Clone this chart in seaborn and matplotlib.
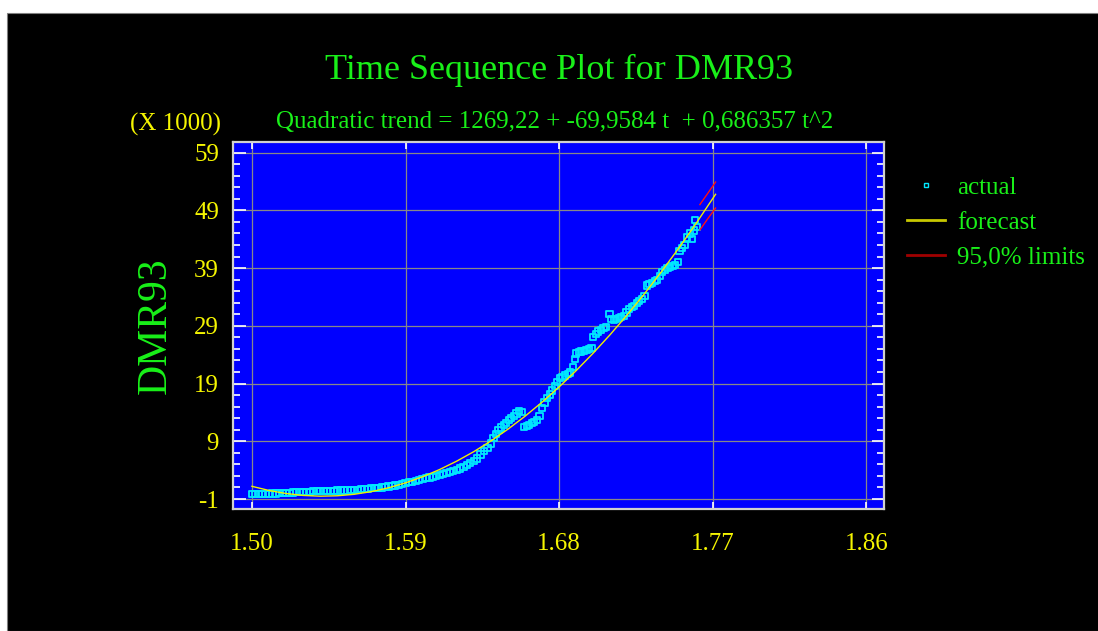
import numpy as np
import pandas as pd
import matplotlib
matplotlib.use("Agg")
import matplotlib.pyplot as plt
from matplotlib.lines import Line2D
from matplotlib.patches import Rectangle
from matplotlib.ticker import FixedLocator
import seaborn as sns

# ---------------- data ----------------
actual_x = [1.500, 1.502, 1.504, 1.506, 1.508, 1.510, 1.512, 1.514, 1.516, 1.518,
            1.520, 1.522, 1.524, 1.526, 1.528, 1.530, 1.532, 1.534, 1.536, 1.538,
            1.540, 1.542, 1.544, 1.546, 1.548, 1.550, 1.552, 1.554, 1.556, 1.558,
            1.560, 1.562, 1.564, 1.566, 1.568, 1.570, 1.572, 1.574, 1.576, 1.578,
            1.580, 1.582, 1.584, 1.586, 1.588, 1.590, 1.592, 1.594, 1.596, 1.598,
            1.600, 1.602, 1.604, 1.606, 1.608, 1.610, 1.612, 1.614, 1.616, 1.618,
            1.620, 1.622, 1.624, 1.626, 1.628, 1.630, 1.632, 1.634, 1.636, 1.638,
            1.640, 1.6415, 1.643, 1.6445, 1.646, 1.6475, 1.649, 1.6505, 1.652, 1.6535,
            1.655, 1.6565, 1.658, 1.6595, 1.661, 1.6625, 1.664, 1.6655, 1.667, 1.6685,
            1.670, 1.6715, 1.673, 1.6745, 1.676, 1.6775, 1.679, 1.6805, 1.682, 1.6835,
            1.685, 1.6865, 1.688, 1.6895, 1.690, 1.6915, 1.693, 1.6945, 1.696, 1.6975,
            1.699, 1.700, 1.7015, 1.703, 1.7045, 1.706, 1.7075, 1.7095, 1.7105, 1.712,
            1.7135, 1.715, 1.7165, 1.718, 1.7195, 1.721, 1.7225, 1.724, 1.7255, 1.727,
            1.7285, 1.730, 1.7315, 1.733, 1.7345, 1.736, 1.7375, 1.739, 1.7405, 1.742,
            1.7435, 1.745, 1.7465, 1.748, 1.7495, 1.7505, 1.752, 1.7535, 1.755, 1.7565,
            1.7578, 1.759, 1.7597, 1.7608]
actual_y = [-0.10, -0.10, -0.09, -0.09, -0.08, -0.07, -0.05, -0.03, 0.00, 0.02,
            0.05, 0.08, 0.12, 0.16, 0.18, 0.20, 0.21, 0.25, 0.35, 0.42,
            0.43, 0.44, 0.44, 0.45, 0.45, 0.46, 0.46, 0.47, 0.48, 0.50,
            0.55, 0.62, 0.70, 0.76, 0.80, 0.84, 0.88, 0.93, 1.00, 1.08,
            1.16, 1.25, 1.35, 1.45, 1.58, 1.75, 1.90, 2.00, 2.15, 2.30,
            2.45, 2.58, 2.72, 2.86, 3.02, 3.20, 3.35, 3.50, 3.64, 3.85,
            4.07, 4.30, 4.58, 4.90, 5.28, 5.62, 6.00, 6.70, 7.25, 7.80,
            8.60, 9.60, 10.30, 10.90, 11.40, 11.80, 12.20, 12.70, 13.10, 13.40,
            13.80, 14.20, 14.10, 11.50, 11.60, 11.85, 12.10, 12.40, 12.75, 13.40,
            14.80, 15.70, 16.50, 17.10, 17.80, 18.60, 19.30, 19.90, 20.20, 20.40,
            20.60, 20.90, 21.90, 23.20, 24.20, 24.40, 24.55, 24.70, 24.80, 25.00,
            25.20, 27.10, 27.60, 28.00, 28.30, 28.60, 28.80, 31.10, 30.20, 30.00,
            30.20, 30.40, 30.50, 30.70, 31.30, 31.90, 32.20, 32.50, 32.90, 33.30,
            33.70, 34.20, 36.00, 36.20, 36.40, 36.70, 37.00, 37.60, 38.30, 38.70,
            39.00, 39.20, 39.40, 39.60, 40.00, 42.00, 42.50, 43.00, 44.30, 45.00,
            44.10, 45.50, 47.30, 46.10]

forecast_x = [1.50, 1.51, 1.52, 1.53, 1.54, 1.55, 1.56, 1.57, 1.58, 1.59,
              1.60, 1.61, 1.62, 1.63, 1.64, 1.65, 1.66, 1.67, 1.68, 1.69,
              1.70, 1.71, 1.72, 1.73, 1.74, 1.75, 1.76, 1.77, 1.7717]
forecast_y = [1.20, 0.48, -0.05, -0.38, -0.51, -0.44, -0.18, 0.28, 0.94, 1.80,
              2.85, 4.11, 5.56, 7.20, 9.05, 11.09, 13.33, 15.77, 18.41, 21.24,
              24.27, 27.50, 30.93, 34.55, 38.38, 42.40, 46.61, 51.03, 51.78]

limits_x = [1.7625, 1.7670, 1.7717]
upper_y = [50.0, 51.9, 53.9]
lower_y = [45.6, 47.5, 49.4]

x_ticks = [1.50, 1.59, 1.68, 1.77, 1.86]
x_labels = ["1.50", "1.59", "1.68", "1.77", "1.86"]
y_ticks = [-1, 9, 19, 29, 39, 49, 59]
y_labels = ["-1", "9", "19", "29", "39", "49", "59"]

title = "Time Sequence Plot for DMR93"
subtitle = "Quadratic trend = 1269,22 + -69,9584 t  + 0,686357 t^2"
ylabel = "DMR93"
scale_note = "(X 1000)"
legend_labels = ["actual", "forecast", "95,0% limits"]

# ---------------- styling ----------------
GREEN = "#19F019"
YELLOW = "#F5F500"
BLUE = "#0000FF"
CYAN = "#00E8FF"
SERIF = ["Liberation Serif", "DejaVu Serif"]
plt.rcParams["axes.unicode_minus"] = False

df_act = pd.DataFrame({"x": actual_x, "y": actual_y})
df_fc = pd.DataFrame({"x": forecast_x, "y": forecast_y})
df_up = pd.DataFrame({"x": limits_x, "y": upper_y})
df_lo = pd.DataFrame({"x": limits_x, "y": lower_y})

fig = plt.figure(figsize=(10.98, 6.31), dpi=100, facecolor="white")
fig.patches.append(Rectangle((7 / 1098, 0), 1, (631 - 13) / 631, transform=fig.transFigure,
                             facecolor="black", edgecolor="#808080", lw=0.8, zorder=-10))

ax = fig.add_axes([233 / 1098, 122 / 631, 651 / 1098, 367 / 631])
ax.set_facecolor(BLUE)

sns.scatterplot(data=df_act, x="x", y="y", ax=ax, marker="s", s=20, linewidth=1.3,
                zorder=3, legend=False)
coll = ax.collections[-1]
coll.set_facecolor("none")
coll.set_edgecolor(CYAN)

sns.lineplot(data=df_fc, x="x", y="y", ax=ax, color="#F0F000", lw=1.0, zorder=4)
sns.lineplot(data=df_up, x="x", y="y", ax=ax, color="#FF1010", lw=1.0, zorder=4)
sns.lineplot(data=df_lo, x="x", y="y", ax=ax, color="#FF1010", lw=1.0, zorder=4)

ax.set_xlim(1.4889, 1.8704)
ax.set_ylim(-2.73, 60.84)

ax.xaxis.set_major_locator(FixedLocator(x_ticks))
ax.set_xticklabels(x_labels)
ax.yaxis.set_major_locator(FixedLocator(y_ticks))
ax.set_yticklabels(y_labels)
ax.yaxis.set_minor_locator(FixedLocator([v for v in np.arange(-1, 60, 2) if (v + 1) % 10 != 0]))

ax.grid(True, which="major", color="#888888", lw=0.9, zorder=1)
ax.set_axisbelow(True)

ax.tick_params(axis="y", which="major", direction="in", length=9, width=1.2, color="white",
               left=True, right=True, labelsize=18, labelcolor=YELLOW, pad=10)
ax.tick_params(axis="y", which="minor", direction="in", length=5, width=1.2, color="white",
               left=True, right=True)
ax.tick_params(axis="x", which="major", direction="in", length=5, width=1.2, color="white",
               top=True, bottom=True, labelsize=18, labelcolor=YELLOW, pad=17)
for lab in ax.get_xticklabels() + ax.get_yticklabels():
    lab.set_family(SERIF)

for sp in ax.spines.values():
    sp.set_color("#D0D0D0")
    sp.set_linewidth(1.6)

ax.set_xlabel("")
ax.set_ylabel(ylabel, color=GREEN, fontsize=30, family=SERIF, labelpad=14)

fig.text(559 / 1098, 1 - 70 / 631, title, color=GREEN, fontsize=26, family=SERIF,
         ha="center", va="center")
fig.text(555 / 1098, 1 - 122 / 631, subtitle, color=GREEN, fontsize=18, family=SERIF,
         ha="center", va="center")
fig.text(221 / 1098, 1 - 124 / 631, scale_note, color=YELLOW, fontsize=18, family=SERIF,
         ha="right", va="center")

handles = [
    Line2D([], [], marker="s", ls="none", markersize=3.5, markerfacecolor="none",
           markeredgecolor=CYAN, markeredgewidth=1.0),
    Line2D([], [], color="#C8C800", lw=2),
    Line2D([], [], color="#A00000", lw=2),
]
leg = fig.legend(handles, legend_labels, loc="upper left",
                 bbox_to_anchor=(907 / 1098, 1 - 176 / 631), frameon=False,
                 prop={"family": SERIF, "size": 18}, labelcolor=GREEN,
                 handlelength=1.5, handletextpad=0.5, labelspacing=0.5,
                 borderpad=0, borderaxespad=0)

fig.savefig("out.png", dpi=100, facecolor=fig.get_facecolor())
